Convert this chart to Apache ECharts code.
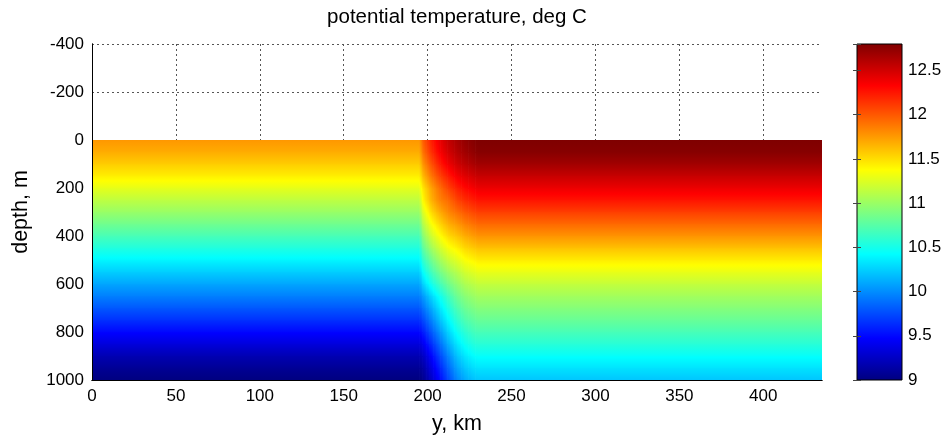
<!DOCTYPE html>
<html>
<head>
<meta charset="utf-8">
<script src="https://cdn.jsdelivr.net/npm/echarts@6/dist/echarts.min.js"></script>
<style>
  html, body { margin: 0; padding: 0; background: #fff; }
  #chart { width: 947px; height: 436px; }
</style>
</head>
<body>
<div id="chart"></div>
<script>
// Depth levels (m) at which the section is tabulated
const depthLevels = [0, 50, 100, 150, 200, 250, 300, 350, 400, 450, 500,
                     550, 600, 650, 700, 750, 800, 850, 900, 950, 1000];

// Horizontal positions (km) of the tabulated profiles
const profilePositions = [0, 195, 197.5, 202.5, 207.5, 212.5, 217.5, 222.5, 227.5, 230, 435];

// Potential temperature (deg C) profiles, surface to 1000 m
const tempWest    = [11.76, 11.68, 11.56, 11.43, 11.28, 11.13, 10.99, 10.84, 10.69, 10.54, 10.39,
                     10.24, 10.09, 9.95, 9.80, 9.65, 9.49, 9.34, 9.19, 9.08, 9.00];
const tempFront1  = [11.99, 11.91, 11.78, 11.64, 11.48, 11.41, 11.26, 11.11, 10.95, 10.79, 10.62,
                     10.45, 10.27, 10.06, 9.91, 9.75, 9.58, 9.42, 9.26, 9.14, 9.06];
const tempFront2  = [12.23, 12.16, 12.03, 11.89, 11.73, 11.67, 11.52, 11.36, 11.20, 11.03, 10.85,
                     10.68, 10.50, 10.28, 10.12, 9.97, 9.81, 9.65, 9.49, 9.37, 9.27];
const tempFront3  = [12.41, 12.35, 12.23, 12.08, 11.92, 11.84, 11.69, 11.53, 11.37, 11.20, 11.03,
                     10.86, 10.68, 10.48, 10.34, 10.20, 10.04, 9.89, 9.74, 9.61, 9.51];
const tempFront4  = [12.55, 12.49, 12.38, 12.23, 12.08, 11.93, 11.82, 11.67, 11.51, 11.34, 11.17,
                     11.00, 10.84, 10.67, 10.54, 10.41, 10.27, 10.13, 9.98, 9.86, 9.75];
const tempFront5  = [12.65, 12.60, 12.50, 12.36, 12.21, 12.07, 11.91, 11.75, 11.59, 11.42, 11.26,
                     11.10, 10.96, 10.83, 10.71, 10.59, 10.46, 10.33, 10.20, 10.08, 9.97];
const tempFront6  = [12.73, 12.68, 12.58, 12.44, 12.30, 12.16, 12.00, 11.84, 11.68, 11.52, 11.36,
                     11.21, 11.07, 10.94, 10.83, 10.72, 10.59, 10.47, 10.34, 10.22, 10.11];
const tempFront7  = [12.78, 12.74, 12.64, 12.50, 12.36, 12.22, 12.06, 11.90, 11.74, 11.57, 11.41,
                     11.26, 11.12, 11.00, 10.89, 10.78, 10.67, 10.55, 10.42, 10.30, 10.19];
const tempEast    = [12.80, 12.77, 12.67, 12.53, 12.39, 12.25, 12.09, 11.93, 11.77, 11.60, 11.44,
                     11.29, 11.15, 11.03, 10.92, 10.81, 10.69, 10.57, 10.44, 10.32, 10.21];

const profileTemps = [tempWest, tempWest, tempFront1, tempFront2, tempFront3, tempFront4,
                      tempFront5, tempFront6, tempFront7, tempEast, tempEast];

// Colour scale limits (deg C)
const colorMin = 9.0;
const colorMax = 12.8;

// Jet colour map, evenly spaced stops from low to high
const jetStops = [[0, 0, 127], [0, 0, 255], [0, 127, 255], [0, 255, 255], [127, 255, 127],
                  [255, 255, 0], [255, 127, 0], [255, 0, 0], [127, 0, 0]];

function jet(v) {
  let t = (v - colorMin) / (colorMax - colorMin);
  t = Math.max(0, Math.min(1, t));
  const p = t * (jetStops.length - 1);
  const i = Math.min(jetStops.length - 2, Math.floor(p));
  const f = p - i;
  const a = jetStops[i], b = jetStops[i + 1];
  const c = a.map((x, k) => Math.round(x + (b[k] - x) * f));
  return 'rgb(' + c.join(',') + ')';
}

// One cell between neighbouring profiles and depth levels:
// [x0, x1, d0, d1, topLeft, topRight, bottomLeft, bottomRight]
const fieldCells = [];
for (let c = 0; c < profilePositions.length - 1; c++) {
  const L = profileTemps[c], R = profileTemps[c + 1];
  for (let j = 0; j < depthLevels.length - 1; j++) {
    fieldCells.push([profilePositions[c], profilePositions[c + 1], depthLevels[j], depthLevels[j + 1],
                     L[j], R[j], L[j + 1], R[j + 1]]);
  }
}

const FONT = '"Liberation Sans", Arial, Helvetica, sans-serif';

// Shaded cell: thin vertical strips, each with a vertical colour gradient
function renderCell(params, api) {
  const a = api.coord([api.value(0), api.value(2)]);
  const b = api.coord([api.value(1), api.value(3)]);
  const tl = api.value(4), tr = api.value(5), bl = api.value(6), br = api.value(7);
  const w = b[0] - a[0], h = b[1] - a[1];
  const uniform = tl === tr && bl === br;
  const n = uniform ? 1 : Math.max(1, Math.ceil(w / 1.5));
  const children = [];
  for (let s = 0; s < n; s++) {
    const u = n === 1 ? 0.5 : (s + 0.5) / n;
    const top = tl + (tr - tl) * u;
    const bot = bl + (br - bl) * u;
    const stops = [];
    for (let k = 0; k <= 8; k++) {
      const f = k / 8;
      stops.push({ offset: f, color: jet(top + (bot - top) * f) });
    }
    children.push({
      type: 'rect',
      shape: { x: a[0] + w * s / n, y: a[1], width: w / n + 0.7, height: h + 0.7 },
      style: { fill: new echarts.graphic.LinearGradient(0, 0, 0, 1, stops) }
    });
  }
  return { type: 'group', children: children };
}

function renderColorbar(params, api) {
  const a = api.coord([api.value(0), api.value(3)]);
  const b = api.coord([api.value(1), api.value(2)]);
  const stops = jetStops.map((c, i) => ({ offset: i / (jetStops.length - 1), color: 'rgb(' + c.join(',') + ')' }));
  return {
    type: 'rect',
    shape: { x: a[0], y: a[1], width: b[0] - a[0], height: b[1] - a[1] },
    style: { fill: new echarts.graphic.LinearGradient(0, 1, 0, 0, stops), stroke: '#000', lineWidth: 1 }
  };
}

const chart = echarts.init(document.getElementById('chart'), null, { renderer: 'canvas' });

const lineBlack = { show: true, onZero: false, lineStyle: { color: '#000', width: 1 } };
const gridDots = { show: true, lineStyle: { color: '#555', width: 1, type: [2, 3] } };

chart.setOption({
  backgroundColor: '#fff',
  animation: false,
  grid: [
    { left: 92, top: 44, width: 730, height: 336, containLabel: false },
    { left: 857, top: 44, width: 45, height: 336, containLabel: false }
  ],
  xAxis: [
    {
      gridIndex: 0, type: 'value', min: 0, max: 435, interval: 50,
      axisLine: lineBlack, axisTick: { show: false },
      splitLine: Object.assign({ showMaxLine: false }, gridDots),
      axisLabel: {
        color: '#000', fontSize: 17, fontFamily: FONT, margin: 8,
        formatter: v => (v % 50 === 0 ? String(v) : '')
      }
    },
    {
      gridIndex: 0, type: 'value', min: 0, max: 435, position: 'bottom', z: 5,
      axisLine: lineBlack, axisTick: { show: false }, axisLabel: { show: false }, splitLine: { show: false }
    },
    { gridIndex: 1, type: 'value', min: 0, max: 1, show: false }
  ],
  yAxis: [
    {
      gridIndex: 0, type: 'value', min: -400, max: 1000, interval: 200, inverse: true,
      axisLine: lineBlack, axisTick: { show: false }, splitLine: gridDots,
      axisLabel: { color: '#000', fontSize: 17, fontFamily: FONT, margin: 8, formatter: v => String(v) }
    },
    {
      gridIndex: 0, type: 'value', min: -400, max: 1000, inverse: true, position: 'left', z: 5,
      axisLine: lineBlack, axisTick: { show: false }, axisLabel: { show: false }, splitLine: { show: false }
    },
    {
      gridIndex: 1, type: 'value', min: colorMin, max: colorMax, interval: 0.5, position: 'right', z: 5,
      axisLine: { show: false }, splitLine: { show: false },
      axisTick: { show: true, inside: true, length: 4, lineStyle: { color: '#444' } },
      axisLabel: {
        color: '#000', fontSize: 17, fontFamily: FONT, margin: 6,
        formatter: v => (Math.abs(v * 2 - Math.round(v * 2)) < 1e-6 ? String(v) : '')
      }
    },
    {
      gridIndex: 1, type: 'value', min: colorMin, max: colorMax, interval: 0.5, position: 'left', z: 5,
      axisLine: { show: false }, splitLine: { show: false }, axisLabel: { show: false },
      axisTick: { show: true, inside: true, length: 4, lineStyle: { color: '#444' } }
    }
  ],
  series: [
    {
      type: 'custom', name: 'potential temperature',
      xAxisIndex: 0, yAxisIndex: 0, clip: true, silent: true,
      encode: { x: [0, 1], y: [2, 3] },
      renderItem: renderCell,
      data: fieldCells
    },
    {
      type: 'custom', name: 'colorbar',
      xAxisIndex: 2, yAxisIndex: 2, silent: true,
      encode: { x: [0, 1], y: [2, 3] },
      renderItem: renderColorbar,
      data: [[0, 1, colorMin, colorMax]]
    }
  ],
  graphic: [
    {
      type: 'text', x: 457, y: 17,
      style: { text: 'potential temperature, deg C', font: '20.5px ' + FONT, fill: '#000',
               align: 'center', verticalAlign: 'middle', textAlign: 'center', textVerticalAlign: 'middle' }
    },
    {
      type: 'text', x: 457, y: 424,
      style: { text: 'y, km', font: '21.5px ' + FONT, fill: '#000',
               align: 'center', verticalAlign: 'middle', textAlign: 'center', textVerticalAlign: 'middle' }
    },
    {
      type: 'text', x: 21, y: 212, rotation: Math.PI / 2,
      style: { text: 'depth, m', font: '21.5px ' + FONT, fill: '#000',
               align: 'center', verticalAlign: 'middle', textAlign: 'center', textVerticalAlign: 'middle' }
    }
  ]
});
</script>
</body>
</html>
